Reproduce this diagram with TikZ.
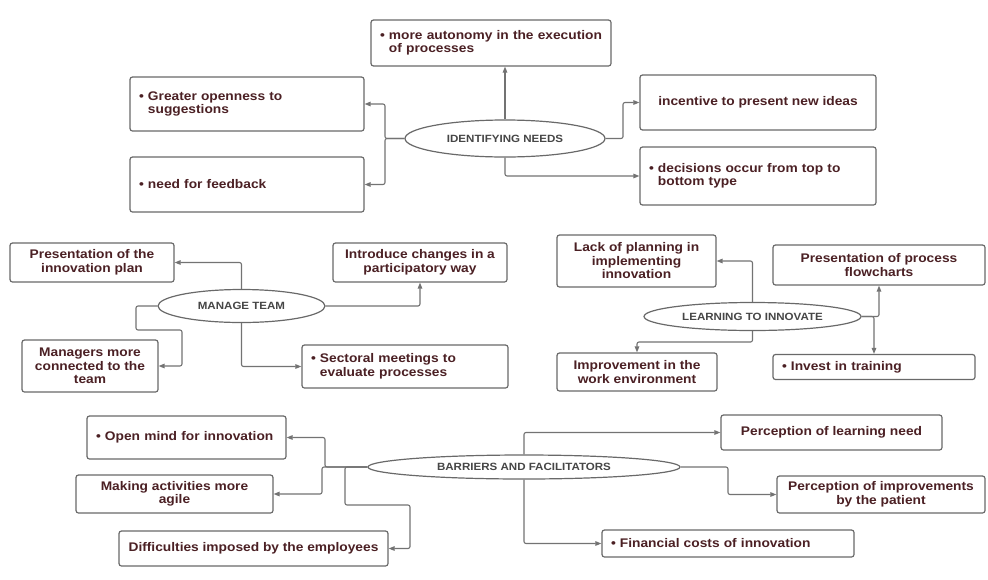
\documentclass[tikz,border=0pt]{standalone}
\usepackage{fontspec}
\setmainfont{Liberation Sans}
\newfontfamily\bxfont{Liberation Sans}[FakeStretch=1.1]
\usetikzlibrary{shapes.geometric,arrows.meta}
\definecolor{txt}{RGB}{75,32,36}
\definecolor{etxt}{RGB}{70,70,70}
\definecolor{bord}{RGB}{105,105,105}
\definecolor{conn}{RGB}{115,115,115}
\newcommand\ind{\phantom{• }}
\tikzset{
 bx/.style={draw=bord, line width=1.2pt, rounded corners=2.5pt, fill=white, inner xsep=9pt, inner ysep=0pt, text=txt, font=\bxfont\bfseries\fontsize{12.5}{13.5}\selectfont},
 bl/.style={bx, align=left},
 bc/.style={bx, align=center},
 el/.style={ellipse, draw=bord, line width=1.2pt, fill=white, inner sep=0pt, text=etxt, font=\bxfont\bfseries\fontsize{10.5}{12}\selectfont},
 cn/.style={draw=conn, line width=1.1pt, rounded corners=2pt, -{Triangle[length=6pt,width=4.5pt]}},
}
\begin{document}
\begin{tikzpicture}[x=1pt,y=-1pt]
\useasboundingbox[fill=white] (0,0) rectangle (988,579);

% IDENTIFYING NEEDS
\node[bl, minimum width=240, minimum height=46, text width=222] (auto) at (491,43) {\mbox{• more autonomy in the execution}\\\mbox{\ind of processes}};
\node[bl, minimum width=234, minimum height=54, text width=216] (open) at (247,104) {\mbox{• Greater openness to}\\\mbox{\ind suggestions}};
\node[bl, minimum width=234, minimum height=55, text width=216] (feed) at (247,184.5) {\mbox{• need for feedback}};
\node[bc, minimum width=236, minimum height=55] (incent) at (758,102.5) {incentive to present new ideas};
\node[bl, minimum width=236, minimum height=58, text width=218] (decis) at (758,176) {\mbox{• decisions occur from top to}\\\mbox{\ind bottom type}};
\node[el, minimum width=200, minimum height=37] (e1) at (505,138.5) {IDENTIFYING NEEDS};

\draw[cn] (e1.north) -- (e1.north |- auto.south);
\draw[cn] (e1.west) -- (385,138.5) |- (open.east);
\draw[cn] (e1.west) -- (385,138.5) |- (feed.east);
\draw[cn] (e1.east) -- (623,138.5) |- (incent.west);
\draw[cn] (e1.south) |- (decis.west);

% MANAGE TEAM
\node[bc, minimum width=164, minimum height=39] (pres) at (92,262.5) {Presentation of the\\innovation plan};
\node[bc, minimum width=174, minimum height=39] (intro) at (420,262.5) {Introduce changes in a\\participatory way};
\node[bc, minimum width=136, minimum height=52] (manag) at (90,366) {Managers more\\connected to the\\team};
\node[bl, minimum width=206, minimum height=43, text width=188] (sector) at (405,366.5) {\mbox{• Sectoral meetings to}\\\mbox{\ind evaluate processes}};
\node[el, minimum width=167, minimum height=33] (e2) at (241.5,306) {MANAGE TEAM};

\draw[cn] (e2.north) |- (pres.east);
\draw[cn] (e2.west) -- (136,306) -- (136,330) -- (182,330) |- (manag.east);
\draw[cn] (e2.south) |- (sector.west);
\draw[cn] (e2.east) -| (intro.south);

% LEARNING TO INNOVATE
\node[bc, minimum width=159, minimum height=52] (lack) at (636.5,261) {Lack of planning in\\implementing\\innovation};
\node[bc, minimum width=212, minimum height=40] (flow) at (879,265) {Presentation of process\\flowcharts};
\node[bc, minimum width=160, minimum height=38] (improv) at (637,372) {Improvement in the\\work environment};
\node[bl, minimum width=202, minimum height=25, text width=184] (invest) at (874,367) {\mbox{• Invest in training}};
\node[el, minimum width=217, minimum height=28] (e3) at (752.5,316.5) {LEARNING TO INNOVATE};

\draw[cn] (e3.north) |- (lack.east);
\draw[cn] (e3.south) -- (752.5,342) -| (improv.north);
\draw[cn] (e3.east) -| (flow.south);
\draw[cn] (e3.east) -| (invest.north);

% BARRIERS AND FACILITATORS
\node[bl, minimum width=199, minimum height=43, text width=181] (openm) at (186.5,437.5) {\mbox{• Open mind for innovation}};
\node[bc, minimum width=197, minimum height=38] (making) at (174.5,494) {Making activities more\\agile};
\node[bc, minimum width=269, minimum height=35] (diff) at (253.5,548.5) {Difficulties imposed by the employees};
\node[bc, minimum width=221, minimum height=35] (plearn) at (831.5,432.5) {Perception of learning need};
\node[bc, minimum width=208, minimum height=37] (pimprov) at (881,494.5) {Perception of improvements\\by the patient};
\node[bl, minimum width=252, minimum height=27, text width=234] (fin) at (728,543.5) {\mbox{• Financial costs of innovation}};
\node[el, minimum width=312, minimum height=24] (e4) at (524,467) {BARRIERS AND FACILITATORS};

\draw[cn] (e4.west) -- (325,467) |- (openm.east);
\draw[cn] (e4.west) -- (322,467) |- (making.east);
\draw[cn] (e4.west) -- (345,467) -- (345,505) -- (410,505) |- (diff.east);
\draw[cn] (e4.north) |- (plearn.west);
\draw[cn] (e4.south) |- (fin.west);
\draw[cn] (e4.east) -- (728,467) |- (pimprov.west);
\end{tikzpicture}
\end{document}
